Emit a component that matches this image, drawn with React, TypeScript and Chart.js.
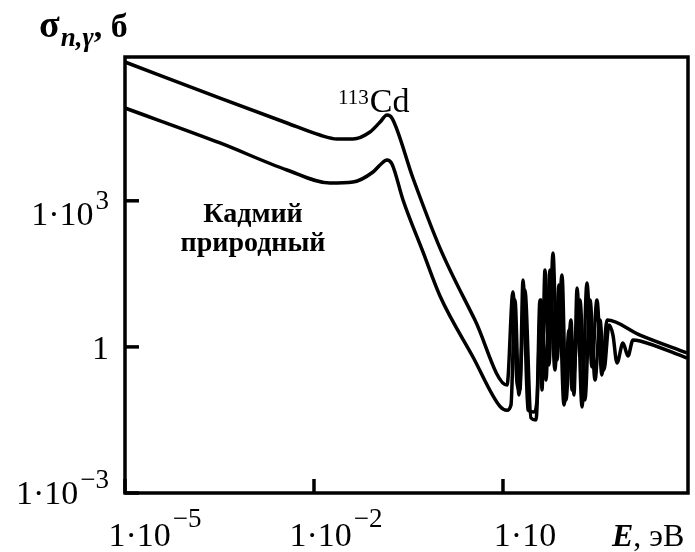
import React, { useEffect, useRef } from "react";
import { Chart, registerables } from "chart.js";
Chart.register(...registerables);

// Neutron energy, eV — upper curve (113Cd)
const energy113 = [1e-5, 3.22e-4, 3.72e-3, 1.24e-2, 2.32e-2, 4.16e-2, 7.74e-2, 0.112, 0.144, 0.173, 0.372, 1.0, 3.59, 11.6, 14.4, 16.7, 18.6, 20.8, 24.9, 31.0, 34.7, 38.6, 41.6, 46.4, 53.7, 62.2, 71.9, 86.5, 100, 120, 134, 150, 180, 215, 259, 310, 372, 448, 1500, 8340];
// Capture cross-section, barn — 113Cd
const sigma113 = [7.08e5, 1.29e5, 3.96e4, 2.24e4, 1.86e4, 1.86e4, 2.59e4, 4.15e4, 5.78e4, 5.01e4, 2.94e3, 107, 3.56, 0.165, 13.4, 0.182, 0.13, 23.7, 0.0506, 0.046, 0.0813, 9.19, 0.13, 37.9, 0.425, 84.7, 0.538, 29.9, 0.0813, 3.56, 0.103, 16.2, 0.0583, 20.5, 0.387, 9.19, 0.265, 3.56, 1.75, 0.75];

// Neutron energy, eV — lower curve (natural cadmium)
const energyNat = [1e-5, 3.22e-4, 3.72e-3, 1.79e-2, 4.16e-2, 8.65e-2, 0.116, 0.144, 0.173, 0.259, 0.537, 1.0, 3.34, 8.96, 11.6, 13.4, 15.5, 17.9, 22.3, 27.8, 33.4, 40.1, 48.2, 55.7, 66.8, 77.4, 92.9, 112, 125, 167, 200, 241, 289, 347, 401, 482, 557, 645, 803, 964, 1157, 1500, 8340];
const sigmaNat = [8.04e4, 1.54e4, 4.29e3, 2.32e3, 2.43e3, 3.9e3, 5.7e3, 6.89e3, 5.7e3, 1.04e3, 88.9, 11.1, 0.621, 0.06, 0.05, 0.0641, 9.19, 0.103, 14.7, 0.0347, 0.0315, 9.19, 0.209, 37.9, 0.336, 18.7, 0.0641, 2.22, 0.13, 9.19, 0.0813, 9.19, 0.209, 3.56, 0.336, 2.82, 1.75, 0.467, 1.2, 0.65, 1.39, 1.32, 0.591];

// Axis ticks
const xTickValues = [1e-5, 1e-2, 10];
const xTickBase = ["1·10", "1·10", "1·10"];
const xTickSup = ["−5", "−2", ""];
const yTickValues = [1e-3, 1, 1e3];
const yTickBase = ["1·10", "1", "1·10"];
const yTickSup = ["−3", "", "3"];

const X_MIN = 1e-5;
const X_MAX = 8650;
const Y_MIN = 1e-3;
const Y_MAX = 8.97e5;

const SERIF = '"Liberation Serif", "DejaVu Serif", serif';

function labelWidth(ctx: CanvasRenderingContext2D, base: string, sup: string, baseFont: string, supFont: string) {
  ctx.font = baseFont;
  const wb = ctx.measureText(base).width;
  ctx.font = supFont;
  const ws = sup ? ctx.measureText(sup).width + 2 : 0;
  return wb + ws;
}

function drawWithSup(
  ctx: CanvasRenderingContext2D,
  base: string,
  sup: string,
  x0: number,
  y: number,
  baseFont: string,
  supFont: string,
  raise: number
) {
  ctx.textAlign = "left";
  ctx.textBaseline = "alphabetic";
  ctx.font = baseFont;
  const wb = ctx.measureText(base).width;
  ctx.fillText(base, x0, y);
  if (sup) {
    ctx.font = supFont;
    ctx.fillText(sup, x0 + wb + 2, y - raise);
  }
}

const framePlugin = {
  id: "framePlugin",
  afterDraw(chart: any) {
    const { ctx, chartArea } = chart;
    const xs = chart.scales.x;
    const ys = chart.scales.y;
    const { left, right, top, bottom } = chartArea;
    ctx.save();
    ctx.strokeStyle = "#000";
    ctx.fillStyle = "#000";
    ctx.lineWidth = 3.5;
    ctx.lineJoin = "miter";
    ctx.strokeRect(left, top, right - left, bottom - top);

    // inward tick marks
    xTickValues.forEach((v) => {
      const px = xs.getPixelForValue(v);
      ctx.beginPath();
      ctx.moveTo(px, bottom);
      ctx.lineTo(px, bottom - 14);
      ctx.stroke();
    });
    yTickValues.forEach((v) => {
      const py = ys.getPixelForValue(v);
      ctx.beginPath();
      ctx.moveTo(left, py);
      ctx.lineTo(left + 14, py);
      ctx.stroke();
    });

    const baseFont = `34px ${SERIF}`;
    const supFont = `27px ${SERIF}`;
    const xShift = [30, 22, 22];
    xTickValues.forEach((v, i) => {
      const px = xs.getPixelForValue(v);
      const w = labelWidth(ctx, xTickBase[i], xTickSup[i], baseFont, supFont);
      drawWithSup(ctx, xTickBase[i], xTickSup[i], px + xShift[i] - w / 2, bottom + 53, baseFont, supFont, 19);
    });
    const yDy = [11, 12, 24];
    yTickValues.forEach((v, i) => {
      const py = ys.getPixelForValue(v);
      const w = labelWidth(ctx, yTickBase[i], yTickSup[i], baseFont, supFont);
      drawWithSup(ctx, yTickBase[i], yTickSup[i], left - 16 - w, py + yDy[i], baseFont, supFont, 16);
    });

    // axis titles
    ctx.textAlign = "left";
    ctx.textBaseline = "alphabetic";
    ctx.font = `bold 38px ${SERIF}`;
    ctx.fillText("σ", 39, 37);
    let w = ctx.measureText("σ").width;
    ctx.font = `italic bold 27px ${SERIF}`;
    ctx.fillText("n,γ", 39 + w + 1, 46);
    const w2 = ctx.measureText("n,γ").width;
    ctx.font = `bold 34px ${SERIF}`;
    ctx.fillText(", б", 39 + w + 1 + w2, 37);

    ctx.font = `italic bold 32px ${SERIF}`;
    ctx.fillText("E", 612, bottom + 53);
    w = ctx.measureText("E").width;
    ctx.font = `32px ${SERIF}`;
    ctx.fillText(", эВ", 612 + w, bottom + 53);

    // annotations
    ctx.font = `bold 28px ${SERIF}`;
    ctx.textAlign = "center";
    ctx.fillText("Кадмий", 253, 222);
    ctx.fillText("природный", 253, 251);

    ctx.textAlign = "left";
    ctx.font = `21px ${SERIF}`;
    ctx.fillText("113", 338, 104);
    const w3 = ctx.measureText("113").width;
    ctx.font = `34px ${SERIF}`;
    ctx.fillText("Cd", 338 + w3 + 1, 112);
    ctx.restore();
  },
};

export default function App() {
  const ref = useRef<HTMLCanvasElement | null>(null);
  useEffect(() => {
    if (!ref.current) return;
    const chart = new Chart(ref.current, {
      type: "line",
      data: {
        datasets: [
          {
            label: "113Cd",
            data: energy113.map((e, i) => ({ x: e, y: sigma113[i] })),
            borderColor: "#000",
            borderWidth: 3.5,
            pointRadius: 0,
            cubicInterpolationMode: "monotone",
            fill: false,
          },
          {
            label: "Кадмий природный",
            data: energyNat.map((e, i) => ({ x: e, y: sigmaNat[i] })),
            borderColor: "#000",
            borderWidth: 3.5,
            pointRadius: 0,
            cubicInterpolationMode: "monotone",
            fill: false,
          },
        ],
      },
      options: {
        animation: false,
        responsive: false,
        devicePixelRatio: 1,
        layout: { padding: { left: 125, right: 7, top: 57, bottom: 59 } },
        plugins: { legend: { display: false }, tooltip: { enabled: false } },
        scales: {
          x: { type: "logarithmic", min: X_MIN, max: X_MAX, display: false },
          y: { type: "logarithmic", min: Y_MIN, max: Y_MAX, display: false },
        },
      },
      plugins: [framePlugin],
    });
    return () => chart.destroy();
  }, []);
  return (
    <div style={{ position: "absolute", left: 0, top: 0, width: 695, height: 552, background: "#fff" }}>
      <canvas ref={ref} width={695} height={552} style={{ display: "block" }} />
    </div>
  );
}
